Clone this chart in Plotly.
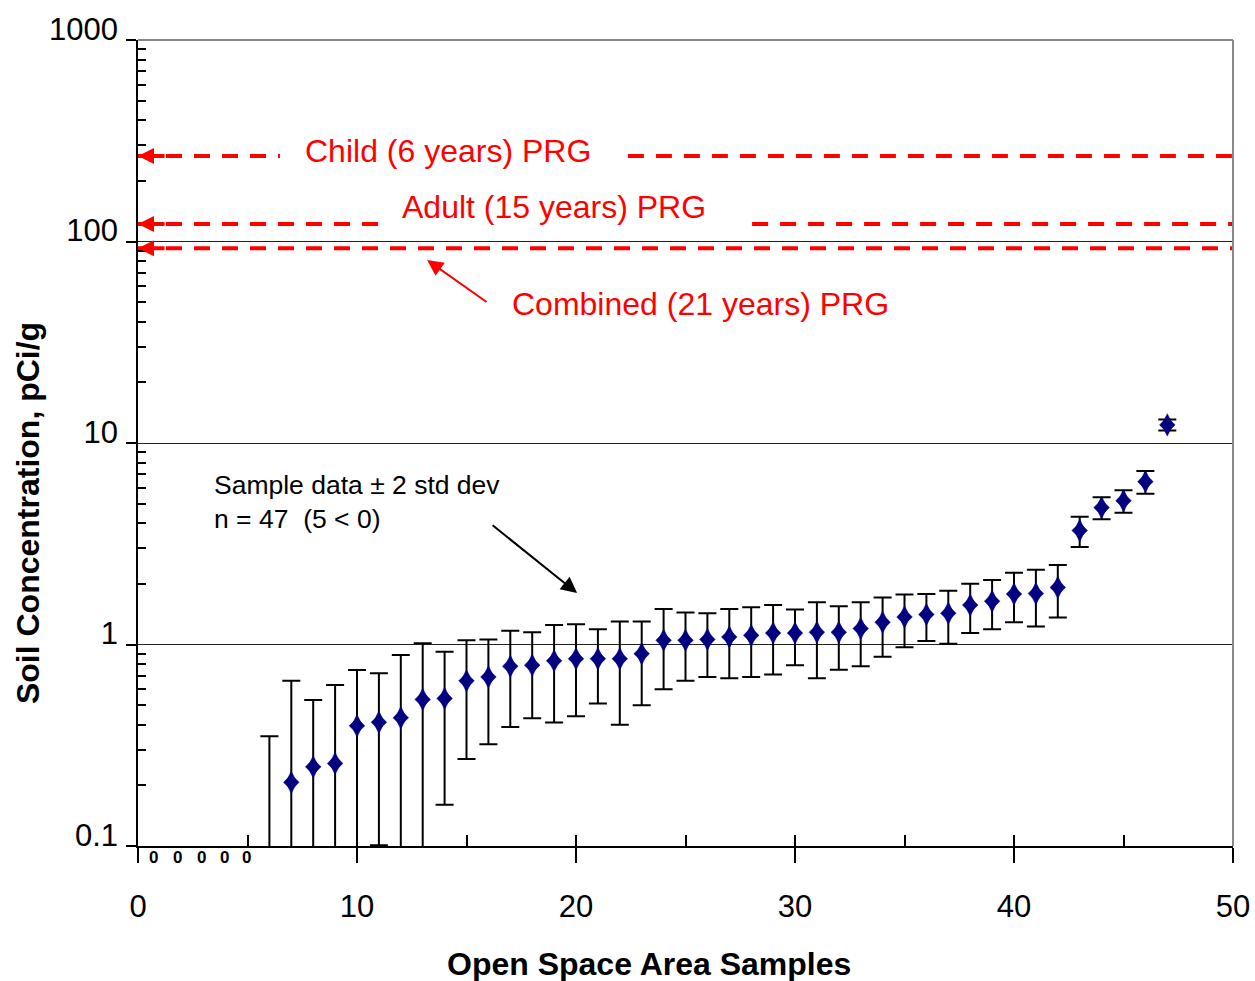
import numpy as np
import plotly.graph_objects as go

# ---------------- data ----------------
sample_idx = list(range(6, 48))
conc = [0.05, 0.207, 0.247, 0.257, 0.395, 0.411, 0.433, 0.534, 0.54, 0.66,
        0.69, 0.78, 0.79, 0.83, 0.85, 0.85, 0.85, 0.90, 1.05, 1.05,
        1.06, 1.09, 1.11, 1.14, 1.14, 1.15, 1.15, 1.20, 1.29, 1.37,
        1.41, 1.43, 1.57, 1.64, 1.78, 1.79, 1.92, 3.68, 4.78, 5.17,
        6.43, 12.3]
two_sd = [0.30, 0.453, 0.283, 0.373, 0.352, 0.31, 0.454, 0.48, 0.38, 0.39,
          0.37, 0.39, 0.36, 0.42, 0.41, 0.34, 0.45, 0.40, 0.45, 0.39,
          0.37, 0.41, 0.42, 0.43, 0.35, 0.47, 0.40, 0.42, 0.42, 0.40,
          0.37, 0.42, 0.43, 0.45, 0.49, 0.56, 0.56, 0.63, 0.60, 0.66,
          0.83, 0.78]

# samples reported below zero (shown just under the axis)
nd_x = [0.73, 1.81, 2.91, 3.93, 4.96]
nd_y = [0.088, 0.088, 0.088, 0.088, 0.088]

prg_labels = ["Child (6 years) PRG", "Adult (15 years) PRG", "Combined (21 years) PRG"]
prg_values = [266, 122, 92.5]
# x extents of the dashed segments (gaps leave room for labels)
prg_segments = [[(0, 6.48), (22.37, 50)],
                [(0, 11.19), (28.04, 50)],
                [(0, 50)]]

x_ticks = [0, 10, 20, 30, 40, 50]
x_minor = [0, 5, 10, 15, 20, 25, 30, 35, 40, 45, 50]
y_ticks = [0.1, 1, 10, 100, 1000]
y_ticktext = ["0.1", "1", "10", "100", "1000"]
y_minor = [m * 10.0 ** k for k in range(-1, 3) for m in range(2, 10)]

Y_RANGE = [-1, 3]  # log10 range
FONT = "Liberation Sans, Arial, sans-serif"
RED = "#ff0000"
NAVY = "#000080"

fig = go.Figure()

# PRG dashed lines
for val, segs in zip(prg_values, prg_segments):
    xs, ys = [], []
    for a, b in segs:
        xs += [a, b, None]
        ys += [val, val, None]
    fig.add_trace(go.Scatter(x=xs, y=ys, mode="lines",
                             line=dict(color=RED, width=4, dash="16px,12px"),
                             hoverinfo="skip", showlegend=False))

# sample data with +/- 2 std dev
fig.add_trace(go.Scatter(
    x=sample_idx, y=conc, mode="markers",
    marker=dict(symbol="diamond", size=12, color=NAVY,
                line=dict(width=0.5, color=NAVY)),
    error_y=dict(type="data", array=two_sd, visible=True, color="black",
                 thickness=2, width=9),
    showlegend=False))
# taller diamond overlaid to give the marker its elongated shape
fig.add_trace(go.Scatter(
    x=sample_idx, y=conc, mode="markers",
    marker=dict(symbol="diamond-tall", size=16, color=NAVY,
                line=dict(width=0.5, color=NAVY)),
    hoverinfo="skip", showlegend=False))

# overlay axis for minor ticks (empty trace)
fig.add_trace(go.Scatter(x=[None], y=[None], xaxis="x2", yaxis="y2",
                         showlegend=False, hoverinfo="skip"))

annotations = []
# below-zero samples drawn as small open ovals under the axis
for nx, ny in zip(nd_x, nd_y):
    py = (np.log10(ny) - Y_RANGE[0]) / (Y_RANGE[1] - Y_RANGE[0])
    annotations.append(dict(x=nx, y=py, xref="x", yref="paper", text="<b>0</b>",
                            showarrow=False, xanchor="center", yanchor="middle",
                            font=dict(family=FONT, size=17, color="black")))
# PRG labels
label_pos = [(7.53, 2.449), (11.96, 2.171), (16.99, 1.690)]
for text, (lx, ly) in zip(prg_labels, label_pos):
    annotations.append(dict(x=lx, y=ly, xref="x", yref="y", text=text,
                            showarrow=False, xanchor="left", yanchor="middle",
                            font=dict(family=FONT, size=32, color=RED)))
# arrowheads at the y axis
for val in prg_values:
    annotations.append(dict(x=0, y=np.log10(val), xref="x", yref="y", text="",
                            showarrow=True, arrowhead=2, arrowsize=0.8,
                            arrowwidth=4, arrowcolor=RED, ax=28, ay=0,
                            standoff=0))
# pointer arrow for combined PRG
annotations.append(dict(x=13.2, y=1.908, xref="x", yref="y", text="",
                        showarrow=True, arrowhead=2, arrowsize=1.6,
                        arrowwidth=2, arrowcolor=RED, ax=61, ay=43, standoff=0))
# sample data note
annotations.append(dict(x=3.38, y=0.707, xref="x", yref="y",
                        text="Sample data \u00b1 2 std dev<br>n = 47 \u00a0(5 &lt; 0)",
                        showarrow=False, xanchor="left", yanchor="middle", align="left",
                        font=dict(family=FONT, size=26.5, color="black")))
annotations.append(dict(x=20.05, y=np.log10(1.80), xref="x", yref="y", text="",
                        showarrow=True, arrowhead=2, arrowsize=1.6,
                        arrowwidth=2, arrowcolor="black", ax=-86, ay=-69, standoff=0))
# axis titles
annotations.append(dict(x=0.467, y=-0.147, xref="paper", yref="paper",
                        text="<b>Open Space Area Samples</b>", showarrow=False,
                        xanchor="center", yanchor="middle",
                        font=dict(family=FONT, size=32, color="black")))
annotations.append(dict(x=-0.1005, y=0.413, xref="paper", yref="paper",
                        text="<b>Soil Concentration, pCi/g</b>", showarrow=False,
                        textangle=-90, xanchor="center", yanchor="middle",
                        font=dict(family=FONT, size=32, color="black")))

fig.update_layout(
    width=1255, height=981,
    margin=dict(l=138, r=22, t=40, b=135, autoexpand=False),
    paper_bgcolor="white", plot_bgcolor="white",
    font=dict(family=FONT, color="black"),
    showlegend=False,
    xaxis=dict(range=[0, 50], tickvals=x_ticks, ticks="outside", ticklen=15,
               tickwidth=1.5, tickcolor="black", showline=True, linecolor="black",
               linewidth=1.5, showgrid=False, zeroline=False, automargin=False,
               tickfont=dict(family=FONT, size=31, color="black"),
               ticklabelstandoff=17),
    xaxis2=dict(range=[0, 50], overlaying="x", anchor="y", side="bottom",
                tickvals=x_minor, ticks="inside", ticklen=11, tickwidth=1.5,
                tickcolor="black", showticklabels=False, showgrid=False,
                showline=False, zeroline=False, automargin=False),
    yaxis=dict(type="log", range=Y_RANGE, tickvals=y_ticks, ticktext=y_ticktext,
               ticks="outside", ticklen=10, tickwidth=1.5, tickcolor="black",
               showline=True, linecolor="black", linewidth=1.5,
               showgrid=True, gridcolor="#222222", gridwidth=1, zeroline=False,
               automargin=False,
               tickfont=dict(family=FONT, size=31, color="black"),
               ticklabelshift=-11, ticklabelstandoff=2),
    yaxis2=dict(type="log", range=Y_RANGE, overlaying="y", anchor="x", side="left",
                tickvals=y_minor, ticks="inside", ticklen=8, tickwidth=1.5,
                tickcolor="black", showticklabels=False, showgrid=False,
                showline=False, zeroline=False, automargin=False),
    annotations=annotations,
    shapes=[
        dict(type="line", xref="paper", yref="paper", x0=0, x1=1, y0=1, y1=1,
             line=dict(color="#888888", width=2), layer="above"),
        dict(type="line", xref="paper", yref="paper", x0=1, x1=1, y0=0, y1=1,
             line=dict(color="#888888", width=2), layer="above"),
    ],
)

fig.write_html("out.html")
